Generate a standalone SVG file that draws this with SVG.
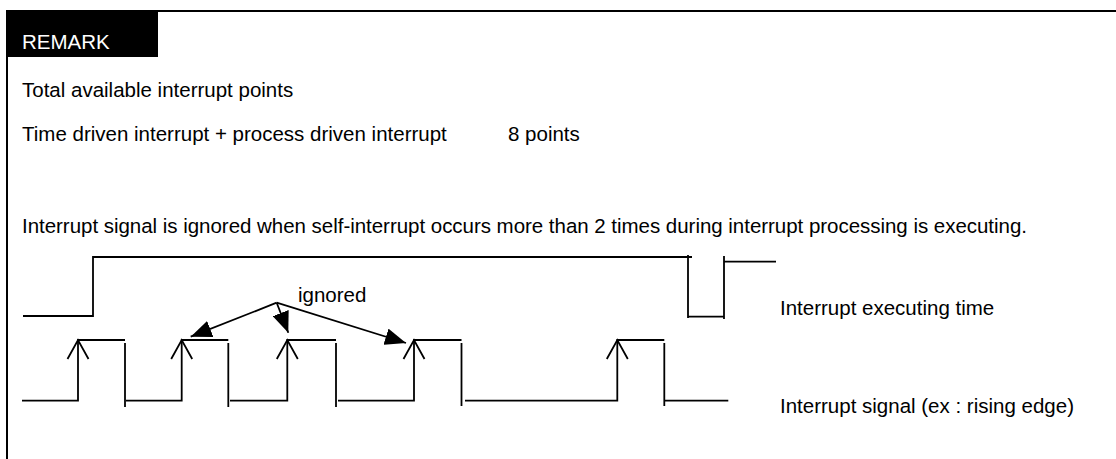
<svg xmlns="http://www.w3.org/2000/svg" width="1116" height="459" viewBox="0 0 1116 459">
<style>
text{font-family:"Liberation Sans",Arial,sans-serif;font-size:20.5px;fill:#000}
.sig{fill:none;stroke:#000;stroke-width:1.8}
.conn{fill:none;stroke:#000;stroke-width:1.8}
</style>
<defs>
<marker id="ah" markerUnits="userSpaceOnUse" markerWidth="21" markerHeight="17" refX="21" refY="8.5" orient="auto" viewBox="0 0 21 17">
<path d="M0,0 L21,8.5 L0,17 Z" fill="#000"/>
</marker>
<path id="chev" d="M-10.5,19 L0,0 L10.5,19" fill="none" stroke="#000" stroke-width="1.8"/>
</defs>
<rect width="1116" height="459" fill="#fff"/>
<g id="frame">
<line x1="6" y1="11" x2="1116" y2="11" stroke="#000" stroke-width="2"/>
<rect x="6" y="10" width="152" height="47" fill="#000"/>
<line x1="7" y1="57" x2="7" y2="459" stroke="#000" stroke-width="2"/>
<text x="22" y="49" style="fill:#fff">REMARK</text>
</g>
<g id="notes">
<text x="22" y="97">Total available interrupt points</text>
<text x="22" y="141">Time driven interrupt + process driven interrupt</text>
<text x="508" y="141">8 points</text>
<text x="22" y="233" textLength="1005">Interrupt signal is ignored when self-interrupt occurs more than 2 times during interrupt processing is executing.</text>
</g>
<g id="exec-signal">
<path class="sig" d="M23,316 H93 V257 H692"/>
<path class="sig" d="M688,255 V318 M688,316.7 H724 M724,256 V319 M724,261.7 H776"/>
<text x="780" y="315">Interrupt executing time</text>
</g>
<g id="irq-signal">
<path class="sig" d="M22,400.7 H78 V340 H125"/>
<line class="sig" x1="125" y1="343" x2="125" y2="407"/>
<path class="sig" d="M126,400.7 H181.7 V340 H228.3"/>
<line class="sig" x1="228.3" y1="343" x2="228.3" y2="407"/>
<path class="sig" d="M230,400.7 H287.3 V340 H336"/>
<line class="sig" x1="336" y1="343" x2="336" y2="407"/>
<path class="sig" d="M338,400.7 H414 V340 H461.5"/>
<line class="sig" x1="461.5" y1="343" x2="461.5" y2="406"/>
<path class="sig" d="M465,400.7 H617.3 V340 H664.3"/>
<line class="sig" x1="664.3" y1="343" x2="664.3" y2="406"/>
<path class="sig" d="M664.3,400.7 H728.3"/>
<use href="#chev" x="78" y="340"/>
<use href="#chev" x="181.7" y="340"/>
<use href="#chev" x="287.3" y="340"/>
<use href="#chev" x="414" y="340"/>
<use href="#chev" x="617.3" y="340"/>
<text x="780" y="413">Interrupt signal (ex : rising edge)</text>
</g>
<g id="connectors">
<text x="298" y="302">ignored</text>
<line class="conn" x1="276.7" y1="302.7" x2="190.7" y2="336.7" marker-end="url(#ah)"/>
<line class="conn" x1="276.7" y1="302.7" x2="288.3" y2="332.7" marker-end="url(#ah)"/>
<line class="conn" x1="276.7" y1="302.7" x2="406" y2="343" marker-end="url(#ah)"/>
</g>
</svg>
